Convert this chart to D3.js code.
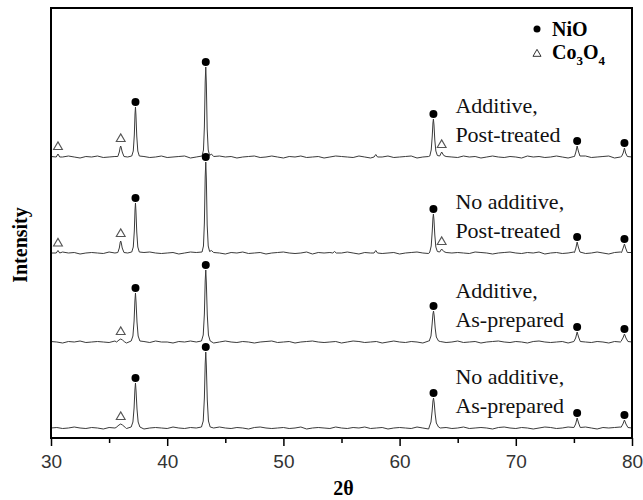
<!DOCTYPE html>
<html>
<head>
<meta charset="utf-8">
<script src="https://cdn.jsdelivr.net/npm/d3@7"></script>
<style>
  body { margin: 0; background: #fff; }
  svg { display: block; }
</style>
</head>
<body>
<div id="wrapper"></div>
<script>
// samples, bottom to top
const sampleLabels = [
  ["No additive,", "As-prepared"],
  ["Additive,", "As-prepared"],
  ["No additive,", "Post-treated"],
  ["Additive,", "Post-treated"],
];
// vertical offset of each pattern (a.u.)
const offsets = [10, 96, 185, 281];

const xTicks = [30, 40, 50, 60, 70, 80];
const xMinorTicks = [35, 45, 55, 65, 75];

// background noise, one value every 0.5 deg from 30 to 80
const noise = [
  [0, 0.5, -0.5, 0, 1, 0, -0.5, 0.5, 0, -1,
   0.5, 0, 1, -0.5, 0, 0.5, -1, 0, 0.5, 0,
   -0.5, 1, 0, -0.5, 0.5, 0, -1, 0.5, 0, 1,
   0, -0.5, 0.5, 0, -1, 0.5, 1, 0, -0.5, 0,
   0.5, -0.5, 0, 1, -1, 0, 0.5, 0, -0.5, 1,
   0, -0.5, 0.5, 0, 1, -0.5, 0, 0.5, -1, 0,
   0.5, 0, -0.5, 1, 0, -1, 0.5, 0, 0.5, -0.5,
   0, 1, -0.5, 0, 0.5, 0, -1, 0.5, 1, 0,
   -0.5, 0.5, 0, -1, 0, 1, 0.5, -0.5, 0, 1,
   0, -0.5, 1, 0, -1, 0.5, 0, 0.5, 1, -0.5, 0],
  [0.5, 0, -1, 0.5, 0, 1, -0.5, 0, 0.5, 0,
   -0.5, 1, 0, -1, 0.5, 0, 0.5, -0.5, 1, 0,
   0, -1, 0.5, 0, 1, 0, -0.5, 0.5, -1, 0,
   1, 0, -0.5, 0.5, 0, -1, 0, 0.5, 1, -0.5,
   0, 0.5, -1, 0, 0.5, 1, 0, -0.5, 0, 0.5,
   -1, 0, 1, 0.5, -0.5, 0, 0.5, -1, 0, 1,
   0, -0.5, 0.5, 0, -1, 1, 0, 0.5, -0.5, 0,
   1, -0.5, 0, 0.5, -1, 0, 0.5, 1, 0, -0.5,
   0.5, 0, -1, 0.5, 1, 0, -0.5, 0, 0.5, -1,
   0, 1, 0, -0.5, 0.5, 0, -1, 0.5, 0, 1, 0],
  [0, -0.5, 1, 0, 0.5, -1, 0, 0.5, 0, -0.5,
   1, 0, -0.5, 0.5, 0, -1, 0.5, 1, 0, -0.5,
   0, 0.5, -1, 0, 1, 0.5, 0, -0.5, 0.5, 0,
   -1, 0.5, 0, 1, -0.5, 0, 0.5, -1, 0, 0.5,
   1, 0, -0.5, 0, 1, -1, 0.5, 0, 0.5, -0.5,
   0, 1, 0, -1, 0.5, 0, 1, -0.5, 0, 0.5,
   -1, 0, 0.5, 1, 0, -0.5, 0, 1, -1, 0,
   0.5, 0, -0.5, 1, 0.5, 0, -1, 0, 0.5, 1,
   0, -0.5, 0.5, 0, 1, -1, 0, 0.5, -0.5, 0,
   1, 0.5, -0.5, 0, 1, 0, -1, 0.5, 1, 0, 0.5],
  [0.5, -0.5, 0, 1, 0, -1, 0.5, 0, 1, -0.5,
   0, 0.5, 0, -1, 1, 0, 0.5, -0.5, 0, 1,
   -0.5, 0, 0.5, 1, -1, 0, 0.5, 0, -0.5, 1,
   0, 0.5, -1, 0, 0.5, 1, -0.5, 0, 1, 0,
   -1, 0.5, 0, 1, -0.5, 0, 0.5, -1, 0, 1,
   0.5, 0, -0.5, 1, 0, -1, 0.5, 0, 1, -0.5,
   0, 0.5, 1, -1, 0, 0.5, -0.5, 0, 1, 0,
   -0.5, 1, 0, 0.5, -1, 0, 1, 0, -0.5, 0.5,
   0, -1, 1, 0, 0.5, -0.5, 0, 1, 0, -1,
   0.5, 0, 1, -0.5, 0, 0.5, 1, -1, 0, 0.5, 0],
];

// diffraction peaks: [2theta, intensity above background]
const peaks = [
  [
    [[35.6, 0.5], [35.85, 3], [36.0, 4], [36.15, 3], [36.4, 0.5]],
    [[36.9, 1], [37.05, 6], [37.15, 20], [37.22, 38], [37.27, 45], [37.32, 37], [37.4, 19], [37.5, 6], [37.65, 1]],
    [[42.95, 1], [43.1, 7], [43.2, 30], [43.27, 64], [43.32, 76], [43.37, 62], [43.45, 28], [43.55, 7], [43.7, 1]],
    [[62.55, 1], [62.7, 6], [62.8, 17], [62.87, 27], [62.92, 30], [62.98, 25], [63.06, 14], [63.16, 5], [63.35, 1]],
    [[75.0, 0.5], [75.15, 4], [75.28, 10], [75.4, 5], [75.55, 0.5]],
    [[79.05, 0.5], [79.22, 4], [79.35, 8], [79.48, 4], [79.65, 0.5]],
  ],
  [
    [[35.65, 0], [35.85, 2], [36.0, 3], [36.15, 2], [36.35, 0]],
    [[36.9, 1], [37.05, 6], [37.15, 21], [37.22, 41], [37.27, 49], [37.32, 40], [37.4, 20], [37.5, 6], [37.65, 1]],
    [[42.95, 1], [43.1, 7], [43.2, 28], [43.27, 61], [43.32, 72], [43.37, 59], [43.45, 27], [43.55, 7], [43.7, 1]],
    [[62.55, 1], [62.7, 6], [62.8, 18], [62.87, 28], [62.92, 31], [62.98, 26], [63.06, 14], [63.16, 5], [63.35, 1]],
    [[75.0, 0.5], [75.15, 4], [75.28, 10], [75.4, 5], [75.55, 0.5]],
    [[79.05, 0.5], [79.22, 4], [79.35, 8], [79.48, 4], [79.65, 0.5]],
  ],
  [
    [[30.45, 0], [30.6, 2.5], [30.75, 0]],
    [[35.75, 0.5], [35.88, 5], [35.96, 11], [36.0, 12], [36.05, 10], [36.13, 5], [36.28, 0.5], [36.6, 0]],
    [[36.95, 1], [37.08, 6], [37.17, 22], [37.23, 43], [37.27, 50], [37.31, 42], [37.38, 21], [37.47, 6], [37.6, 1]],
    [[43.0, 1], [43.12, 7], [43.2, 30], [43.27, 76], [43.32, 91], [43.37, 74], [43.44, 28], [43.53, 7], [43.65, 1.5], [43.8, 2.5], [44.0, 0.5]],
    [[54.25, 0], [54.4, 1.5], [54.55, 0]],
    [[57.8, 0], [57.95, 2.5], [58.1, 0]],
    [[62.6, 1], [62.72, 7], [62.81, 22], [62.87, 35], [62.91, 39], [62.96, 33], [63.03, 18], [63.12, 6], [63.25, 1.5], [63.45, 1], [63.62, 4], [63.8, 1.5], [64.0, 0.5]],
    [[75.05, 0.5], [75.17, 5], [75.28, 11], [75.38, 6], [75.52, 1]],
    [[79.1, 0.5], [79.24, 5], [79.35, 9], [79.45, 5], [79.6, 0.5]],
  ],
  [
    [[30.45, 0], [30.6, 3], [30.75, 0]],
    [[35.75, 0.5], [35.88, 5], [35.96, 10], [36.0, 11], [36.05, 9], [36.13, 5], [36.28, 0.5], [36.6, 0]],
    [[36.95, 1], [37.08, 6], [37.17, 22], [37.23, 43], [37.27, 50], [37.31, 42], [37.38, 21], [37.47, 6], [37.6, 1]],
    [[43.0, 1], [43.12, 7], [43.2, 30], [43.27, 75], [43.32, 90], [43.37, 73], [43.44, 28], [43.53, 7], [43.65, 1.5], [43.8, 3], [44.0, 0.5]],
    [[57.8, 0], [57.95, 2.5], [58.1, 0]],
    [[62.6, 1], [62.72, 7], [62.81, 21], [62.87, 34], [62.91, 38], [62.96, 32], [63.03, 17], [63.12, 6], [63.25, 1.5], [63.45, 1], [63.62, 5], [63.8, 1.5], [64.0, 0.5]],
    [[75.05, 0.5], [75.17, 5], [75.28, 11], [75.38, 6], [75.52, 1]],
    [[79.1, 0.5], [79.24, 4], [79.35, 9], [79.45, 4], [79.6, 0.5]],
  ],
];

// phase assignment of peaks: NiO = dot, Co3O4 = triangle
const markers = [
  [["tri", 36.0], ["dot", 37.27], ["dot", 43.32], ["dot", 62.92], ["dot", 75.28], ["dot", 79.35]],
  [["tri", 36.0], ["dot", 37.27], ["dot", 43.32], ["dot", 62.92], ["dot", 75.28], ["dot", 79.35]],
  [["tri", 30.6], ["tri", 36.0], ["dot", 37.27], ["dot", 43.32], ["dot", 62.91], ["tri", 63.62], ["dot", 75.28], ["dot", 79.35]],
  [["tri", 30.6], ["tri", 36.0], ["dot", 37.27], ["dot", 43.32], ["dot", 62.91], ["tri", 63.62], ["dot", 75.28], ["dot", 79.35]],
];

const labelTheta = 64.8;

/* CHART DIMENSIONS */
const dimensions = {
  width: 643,
  height: 500,
  margin: { top: 8, right: 11, bottom: 62, left: 51 },
};
dimensions.boundedWidth = dimensions.width - dimensions.margin.left - dimensions.margin.right;
dimensions.boundedHeight = dimensions.height - dimensions.margin.top - dimensions.margin.bottom;

/* SCALES */
const xScale = d3.scaleLinear().domain([30, 80]).range([0, dimensions.boundedWidth]);
const yScale = d3.scaleLinear().domain([0, 430]).range([dimensions.boundedHeight, 0]);

/* BUILD TRACES */
const grid = d3.range(30, 80.001, 0.5);
const traces = peaks.map((groups, i) => {
  const windows = groups.map((g) => [g[0][0], g[g.length - 1][0]]);
  const bg = grid
    .map((t, k) => [t, noise[i][k] ?? 0])
    .filter(([t]) => !windows.some(([a, b]) => t >= a - 0.001 && t <= b + 0.001));
  const pts = bg.concat(...groups);
  pts.sort((a, b) => a[0] - b[0]);
  return pts;
});

/* DRAW */
const svg = d3.select("#wrapper").append("svg")
  .attr("width", dimensions.width)
  .attr("height", dimensions.height);

const bounds = svg.append("g")
  .attr("transform", `translate(${dimensions.margin.left},${dimensions.margin.top})`);

const lineGen = d3.line()
  .x((d) => xScale(d[0]));

traces.forEach((pts, i) => {
  bounds.append("path")
    .attr("d", lineGen.y((d) => yScale(d[1] + offsets[i]))(pts))
    .attr("fill", "none")
    .attr("stroke", "#3a3a3a")
    .attr("stroke-width", 1)
    .attr("stroke-linejoin", "round");
});

// peak markers
const triangle = d3.symbol().type(d3.symbolTriangle).size(34);
markers.forEach((list, i) => {
  list.forEach(([type, theta]) => {
    const near = peaks[i].flat().filter((p) => Math.abs(p[0] - theta) < 0.1);
    const apex = d3.max(near, (p) => p[1]);
    const cx = xScale(theta);
    const cy = yScale(apex + offsets[i]);
    if (type === "dot") {
      bounds.append("circle")
        .attr("cx", cx)
        .attr("cy", cy - 5)
        .attr("r", 4)
        .attr("fill", "#000");
    } else {
      bounds.append("path")
        .attr("d", triangle())
        .attr("transform", `translate(${cx},${cy - 7})`)
        .attr("fill", "#fff")
        .attr("stroke", "#555")
        .attr("stroke-width", 1.1);
    }
  });
});

// sample labels
sampleLabels.forEach((lines, i) => {
  const yb = yScale(offsets[i]);
  const t = bounds.append("text")
    .attr("x", xScale(labelTheta))
    .attr("font-family", "'Liberation Serif', 'Times New Roman', serif")
    .attr("font-size", 22)
    .attr("fill", "#111");
  t.append("tspan").attr("x", xScale(labelTheta)).attr("y", yb - 44).text(lines[0]);
  t.append("tspan").attr("x", xScale(labelTheta)).attr("y", yb - 15).text(lines[1]);
});

/* PERIPHERALS */
const xAxis = bounds.append("g")
  .attr("transform", `translate(0,${dimensions.boundedHeight})`)
  .call(d3.axisBottom(xScale).tickValues(xTicks).tickSize(8).tickPadding(9).tickFormat(d3.format("d")));
xAxis.select(".domain").remove();
xAxis.selectAll("line").attr("stroke", "#000").attr("stroke-width", 1.5);
xAxis.selectAll("text")
  .attr("font-family", "'Liberation Sans', Arial, sans-serif")
  .attr("font-size", 19)
  .attr("fill", "#333");

const xMinor = bounds.append("g")
  .attr("transform", `translate(0,${dimensions.boundedHeight})`)
  .call(d3.axisBottom(xScale).tickValues(xMinorTicks).tickSize(5).tickFormat(""));
xMinor.select(".domain").remove();
xMinor.selectAll("line").attr("stroke", "#000").attr("stroke-width", 1.5);

// frame
bounds.append("rect")
  .attr("width", dimensions.boundedWidth)
  .attr("height", dimensions.boundedHeight)
  .attr("fill", "none")
  .attr("stroke", "#000")
  .attr("stroke-width", 2);

// axis titles
svg.append("text")
  .attr("transform", `translate(27,245) rotate(-90)`)
  .attr("text-anchor", "middle")
  .attr("font-family", "'Liberation Serif', 'Times New Roman', serif")
  .attr("font-weight", "bold")
  .attr("font-size", 20)
  .text("Intensity");

svg.append("text")
  .attr("x", dimensions.margin.left + dimensions.boundedWidth / 2 + 2)
  .attr("y", 495)
  .attr("text-anchor", "middle")
  .attr("font-family", "'Liberation Serif', 'Times New Roman', serif")
  .attr("font-weight", "bold")
  .attr("font-size", 20)
  .text("2θ");

// legend
const legend = svg.append("g")
  .attr("font-family", "'Liberation Serif', 'Times New Roman', serif")
  .attr("font-weight", "bold")
  .attr("font-size", 20);

legend.append("circle").attr("cx", 537).attr("cy", 29).attr("r", 3.5).attr("fill", "#000");
legend.append("text").attr("x", 552).attr("y", 36).text("NiO");

legend.append("path")
  .attr("d", d3.symbol().type(d3.symbolTriangle).size(28)())
  .attr("transform", "translate(537,54)")
  .attr("fill", "#fff")
  .attr("stroke", "#333")
  .attr("stroke-width", 1);
const co = legend.append("text").attr("x", 552).attr("y", 59);
co.append("tspan").text("Co");
co.append("tspan").attr("font-size", 13).attr("dy", 6).text("3");
co.append("tspan").attr("dy", -6).text("O");
co.append("tspan").attr("font-size", 13).attr("dy", 6).text("4");
</script>
</body>
</html>
